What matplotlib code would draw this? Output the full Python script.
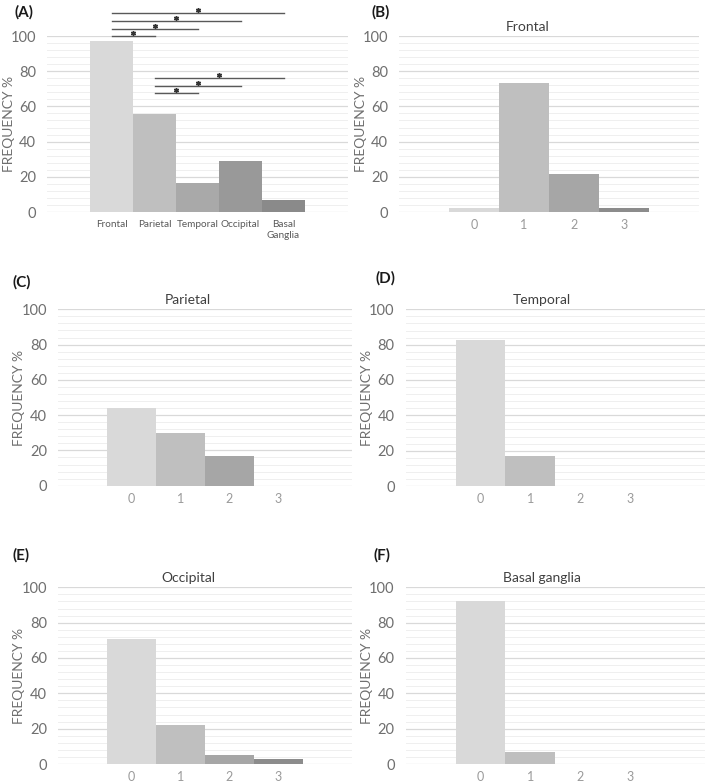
import matplotlib
matplotlib.use("Agg")
import matplotlib.pyplot as plt
import numpy as np

plt.rcParams['font.family'] = ['Lato', 'DejaVu Sans']

# ---- data ----
regions = ["Frontal", "Parietal", "Temporal", "Occipital", "Basal\nGanglia"]
region_freq = [97.3, 55.7, 16.7, 29.0, 6.8]
sig_pairs = [(0, 1), (0, 2), (0, 3), (0, 4), (1, 4), (1, 3), (1, 2)]
sig_heights = [100.0, 103.8, 108.5, 113.3, 76.3, 71.8, 67.8]

scores = ["0", "1", "2", "3"]
frontal = [2.1, 73.1, 21.8, 2.1]
parietal = [44.0, 29.7, 17.0, 0.0]
temporal = [82.5, 17.2, 0.0, 0.0]
occipital = [70.6, 21.9, 4.9, 2.6]
basal = [92.3, 7.0, 0.0, 0.0]

titles = ["Frontal", "Parietal", "Temporal", "Occipital", "Basal ganglia"]
panel_labels = ["(A)", "(B)", "(C)", "(D)", "(E)", "(F)"]

region_colors = ["#d9d9d9", "#bfbfbf", "#a9a9a9", "#999999", "#8a8a8a"]
score_colors = ["#d9d9d9", "#bfbfbf", "#a6a6a6", "#8c8c8c"]

W, H = 709, 782
fig = plt.figure(figsize=(W / 100, H / 100), dpi=100)


def rect(l, r, t, b):
    return [l / W, 1 - b / H, (r - l) / W, (b - t) / H]


def style(ax, nslots, t, b, ylab_x):
    ax.set_ylim(0, 100)
    ax.set_xlim(-0.5, nslots - 0.5)
    ax.set_yticks(np.arange(0, 101, 20))
    ax.set_yticks(np.arange(0, 101, 4), minor=True)
    ax.grid(axis='y', which='major', color='#d9d9d9', lw=0.9)
    ax.grid(axis='y', which='minor', color='#efefef', lw=0.7)
    ax.set_axisbelow(True)
    for s in ax.spines.values():
        s.set_visible(False)
    ax.tick_params(axis='y', which='both', length=0, labelsize=10.5,
                   labelcolor='#6f6f6f', pad=8)
    ax.tick_params(axis='y', which='minor', labelleft=False)
    ax.tick_params(axis='x', length=0, labelcolor='#7f7f7f')
    fig.text(ylab_x / W, 1 - ((t + b) / 2) / H, "FREQUENCY %", rotation=90,
             ha='center', va='center', fontsize=10, color='#6f6f6f')


# ---- panel A ----
axA = fig.add_axes(rect(47, 348, 36, 212))
xA = np.arange(1, len(regions) + 1)
axA.bar(xA, region_freq, width=1.0, color=region_colors, zorder=2)
style(axA, 7, 36, 212, 9)
axA.set_xticks(xA)
axA.set_xticklabels(regions, fontsize=7.2, color='#595959', linespacing=1.3)
axA.tick_params(axis='x', pad=6)
for (i, j), h in zip(sig_pairs, sig_heights):
    x0, x1 = xA[i], xA[j]
    axA.plot([x0, x1], [h, h], color='#595959', lw=1.0, clip_on=False, zorder=3)
    axA.plot([(x0 + x1) / 2], [h + 1.7], marker=(6, 2, 0), ms=3.6, mew=1.0,
             color='#333333', clip_on=False, zorder=4)

# ---- sub panels ----
panels = [
    (frontal, (399, 699, 36, 212), titles[0], (528, 27), 361),
    (parietal, (58, 352, 309.3, 485.7), titles[1], (188, 300), 19),
    (temporal, (405.7, 705, 309.3, 486), titles[2], (542, 300), 367),
    (occipital, (58, 352, 587.3, 764), titles[3], (188, 578), 19),
    (basal, (405.7, 705, 587.3, 764), titles[4], (542, 578), 367),
]
for vals, (l, r, t, b), title, (tx, ty), ylx in panels:
    ax = fig.add_axes(rect(l, r, t, b))
    xs = np.arange(1, len(scores) + 1)
    ax.bar(xs, vals, width=1.0, color=score_colors, zorder=2)
    style(ax, 6, t, b, ylx)
    ax.set_xticks(xs)
    ax.set_xticklabels(scores, fontsize=9, color='#9a9a9a')
    ax.tick_params(axis='x', pad=5)
    fig.text(tx / W, 1 - ty / H, title, ha='center', va='center',
             fontsize=10, color='#404040')

# ---- panel labels ----
label_pos = [(15, 12), (372, 12), (12, 282), (376, 278), (12, 555), (374, 555)]
for lab, (px, py) in zip(panel_labels, label_pos):
    fig.text(px / W, 1 - py / H, lab, ha='left', va='center',
             fontsize=11, fontweight='bold', color='#1a1a1a')

fig.savefig("out.png", dpi=100)
